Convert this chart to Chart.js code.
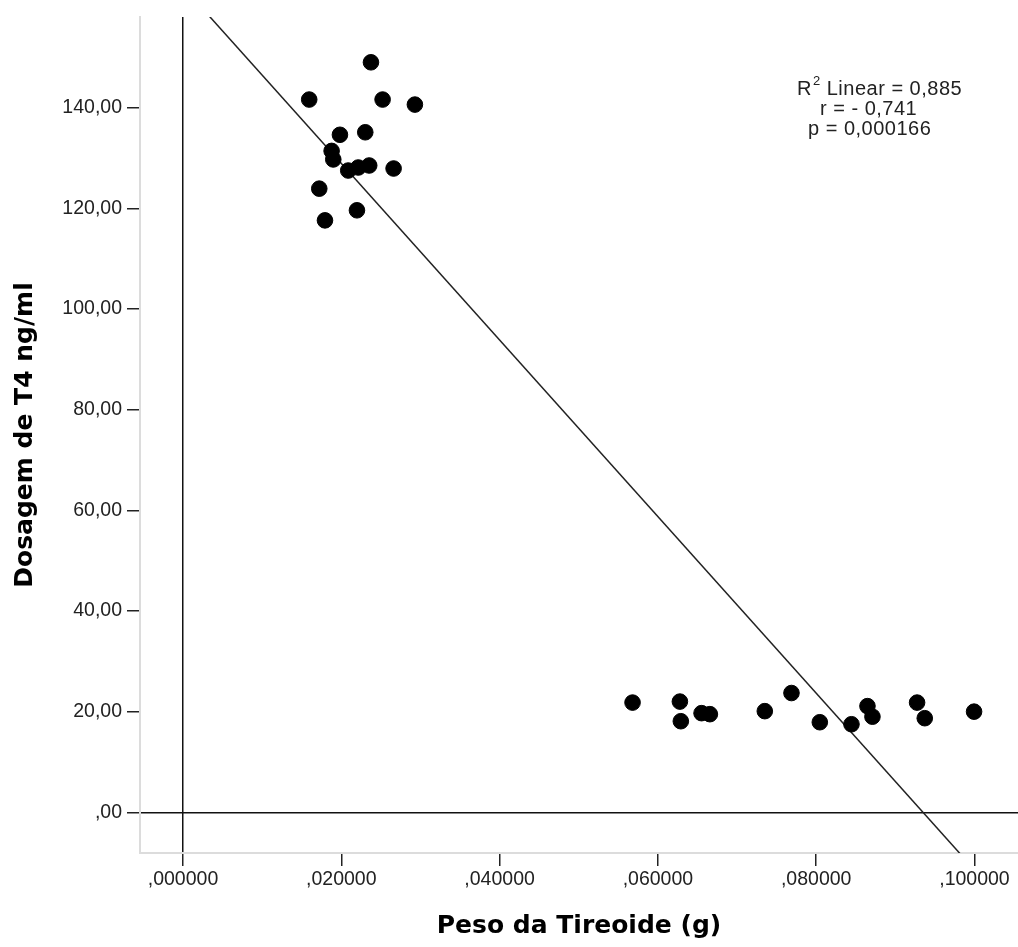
<!DOCTYPE html>
<html>
<head>
<meta charset="utf-8">
<script src="https://cdn.jsdelivr.net/npm/chart.js@4/dist/chart.umd.min.js"></script>
<style>
  html, body { margin: 0; padding: 0; background: #fff; }
  canvas { display: block; }
</style>
</head>
<body>
<canvas id="scatterChart" width="1018" height="947"></canvas>
<script>
// Peso da tireoide (g) x dosagem de T4 (ng/ml)
const pesoAlto = [0.01595, 0.02375, 0.02522, 0.02930, 0.01983, 0.02303, 0.01878, 0.01899,
                  0.02088, 0.02215, 0.02353, 0.02661, 0.01722, 0.02198, 0.01794];
const t4Alto = [141.6, 149.0, 141.6, 140.6, 134.6, 135.1, 131.4, 129.7,
                127.5, 128.1, 128.5, 127.9, 123.9, 119.6, 117.6];
const pesoBaixo = [0.0568, 0.06278, 0.0629, 0.06552, 0.06657, 0.07351, 0.07688,
                   0.08046, 0.08446, 0.08648, 0.08711, 0.09275, 0.09372, 0.09995];
const t4Baixo = [21.8, 22.0, 18.1, 19.7, 19.5, 20.1, 23.7,
                 17.9, 17.5, 21.1, 19.0, 21.8, 18.7, 20.0];

// linha de ajuste (y = a + b*x)
const fitIntercept = 164.0;
const fitSlope = -1754;

const xTicks = [0, 0.02, 0.04, 0.06, 0.08, 0.1];
const xTickLabels = [',000000', ',020000', ',040000', ',060000', ',080000', ',100000'];
const yTicks = [0, 20, 40, 60, 80, 100, 120, 140];
const yTickLabels = [',00', '20,00', '40,00', '60,00', '80,00', '100,00', '120,00', '140,00'];

const xMin = -0.00543, xMax = 0.1055;
const yMin = -8.08, yMax = 158.0;

const points = pesoAlto.map((x, i) => ({ x: x, y: t4Alto[i] }))
  .concat(pesoBaixo.map((x, i) => ({ x: x, y: t4Baixo[i] })));
const fitLine = [xMin, xMax].map(x => ({ x: x, y: fitIntercept + fitSlope * x }));

const tickFont = { family: "'Liberation Sans', Arial, sans-serif", size: 19.5 };
const titleFont = { family: "'DejaVu Sans', Verdana, sans-serif", size: 25, weight: 'bold' };

// texto R2 / r / p
const statsText = {
  id: 'statsText',
  afterDraw(chart) {
    const c = chart.ctx;
    c.save();
    c.fillStyle = '#222';
    c.textBaseline = 'middle';
    c.letterSpacing = '0.5px';
    c.font = "20px 'Liberation Sans', Arial, sans-serif";
    c.fillText('R', 797, 89);
    const rw = c.measureText('R').width;
    c.font = "13px 'Liberation Sans', Arial, sans-serif";
    c.fillText('2', 797 + rw + 1, 81);
    const sw = c.measureText('2').width;
    c.font = "20px 'Liberation Sans', Arial, sans-serif";
    c.fillText(' Linear = 0,885', 797 + rw + sw + 1, 89);
    c.fillText('r = - 0,741', 820, 109);
    c.fillText('p = 0,000166', 808, 129);
    c.restore();
  }
};

const zeroGrid = {
  display: true,
  drawOnChartArea: true,
  drawTicks: true,
  tickLength: 13,
  tickColor: '#222',
  tickWidth: 1.5,
  lineWidth: 1.5,
  color: ctx => (ctx.tick && ctx.tick.value === 0) ? '#111' : 'rgba(0,0,0,0)'
};

document.addEventListener('DOMContentLoaded', function() {
  const ctx = document.getElementById('scatterChart').getContext('2d');
  new Chart(ctx, {
    type: 'scatter',
    data: {
      datasets: [{
        label: 'Dosagem',
        data: points,
        backgroundColor: '#000',
        borderColor: '#000',
        pointRadius: 7.8,
        pointHoverRadius: 7.8,
        order: 0
      }, {
        type: 'line',
        label: 'Linear',
        data: fitLine,
        borderColor: '#222',
        borderWidth: 1.5,
        pointRadius: 0,
        fill: false,
        order: 1
      }]
    },
    options: {
      responsive: false,
      animation: false,
      layout: { autoPadding: false, padding: { top: 17, right: 0, left: 0, bottom: 0 } },
      plugins: {
        legend: { display: false },
        tooltip: { enabled: false }
      },
      scales: {
        x: {
          type: 'linear',
          min: xMin,
          max: xMax,
          afterBuildTicks: scale => { scale.ticks = xTicks.map(v => ({ value: v })); },
          afterFit: scale => {
            scale.height = 94;
            scale.paddingLeft = 0;
            scale.paddingRight = 0;
          },
          grid: zeroGrid,
          border: { display: true, color: '#dcdcdc', width: 2 },
          ticks: {
            color: '#222',
            font: tickFont,
            padding: 2,
            maxRotation: 0,
            autoSkip: false,
            callback: (v, i) => xTickLabels[i]
          },
          title: {
            display: true,
            text: 'Peso da Tireoide (g)',
            color: '#000',
            font: titleFont,
            padding: { top: 0, bottom: 6 }
          }
        },
        y: {
          type: 'linear',
          min: yMin,
          max: yMax,
          afterBuildTicks: scale => { scale.ticks = yTicks.map(v => ({ value: v })); },
          afterFit: scale => {
            scale.width = 140;
            scale.paddingTop = 0;
            scale.paddingBottom = 0;
          },
          grid: zeroGrid,
          border: { display: true, color: '#dcdcdc', width: 2 },
          ticks: {
            color: '#222',
            font: tickFont,
            padding: 5,
            autoSkip: false,
            callback: (v, i) => yTickLabels[i]
          },
          title: {
            display: true,
            text: 'Dosagem de T4 ng/ml',
            color: '#000',
            font: titleFont,
            padding: { top: 10, bottom: 0 }
          }
        }
      }
    },
    plugins: [statsText]
  });
});
</script>
</body>
</html>
